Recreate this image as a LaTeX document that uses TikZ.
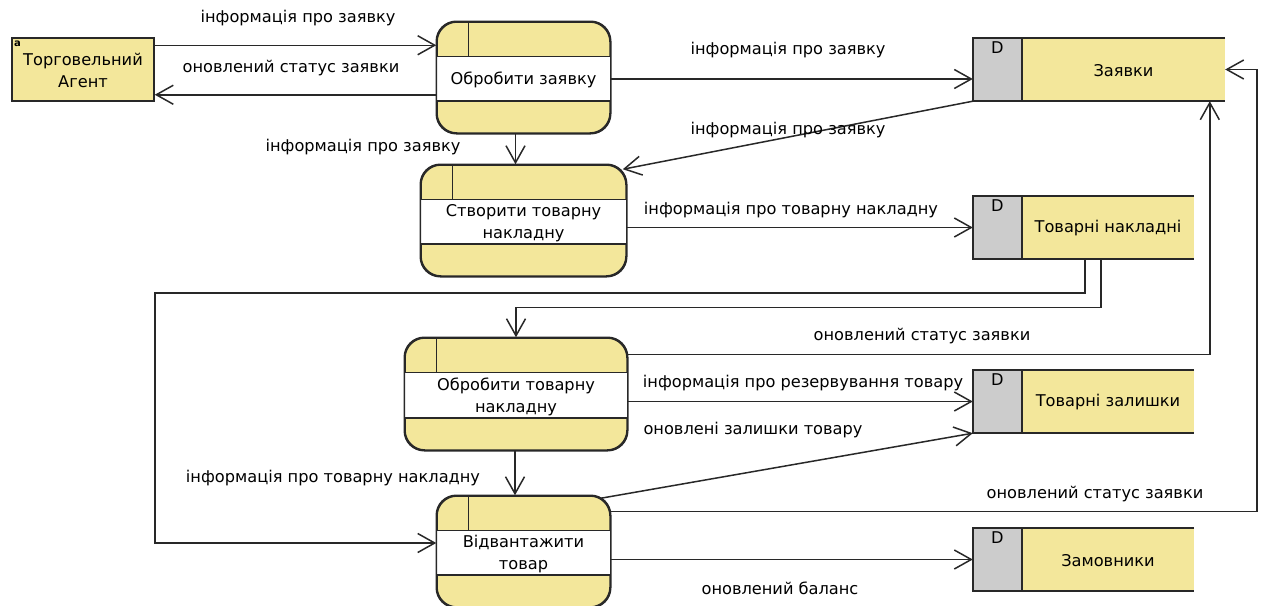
\documentclass[tikz,border=0pt]{standalone}
\usepackage{fontspec}
\setmainfont{DejaVu Sans}
\usetikzlibrary{arrows.meta,calc}

\definecolor{dfdyellow}{RGB}{243,231,155}
\definecolor{dfdgray}{RGB}{204,204,204}
\definecolor{dfdline}{RGB}{40,40,40}

\tikzset{
  line/.style={draw=dfdline, line width=1.5pt},
  flow/.style={line, -{Straight Barb[length=17pt,width=19pt,line width=1.5pt]}},
  lbl/.style={font=\fontsize{16.2}{20}\selectfont, inner sep=0pt},
  boxtext/.style={font=\fontsize{16.2}{22}\selectfont, align=center, inner sep=0pt},
  procbody/.style={line, fill=dfdyellow, rounded corners=20pt, inner sep=0pt},
  storebody/.style={fill=dfdyellow, minimum height=63pt, inner sep=0pt},
  entity/.style={line, fill=dfdyellow, inner sep=0pt},
}

% process: name, centre, width, height, label
\newcommand\dfdprocess[5]{%
  \node[procbody, minimum width=#3pt, minimum height=#4pt] (#1) at #2 {};
  \fill[white] ($(#1.north west)+(0,35)$) rectangle ($(#1.south east)+(0,-33)$);
  \draw[line] ($(#1.north west)+(0,35)$) -- ($(#1.north east)+(0,35)$);
  \draw[line] ($(#1.south west)+(0,-33)$) -- ($(#1.south east)+(0,-33)$);
  \draw[line] ($(#1.north west)+(32,0)$) -- ($(#1.north west)+(32,35)$);
  \draw[line, rounded corners=20pt] (#1.north west) rectangle (#1.south east);
  \node[boxtext] (#1-text) at ($(#1.center)+(0,2.5)$) {#5};
}

% data store: name, centre, width, label
\newcommand\dfdstore[4]{%
  \node[storebody, minimum width=#3pt] (#1) at #2 {};
  \fill[dfdgray] (#1.north west) rectangle ($(#1.south west)+(49,0)$);
  \draw[line] (#1.north east) -- (#1.north west) -- (#1.south west) -- (#1.south east);
  \draw[line] ($(#1.north west)+(49,0)$) -- ($(#1.south west)+(49,0)$);
  \node[boxtext] (#1-d) at ($(#1.north west)+(24.5,10)$) {D};
  \node[boxtext] (#1-text) at ($(#1.center)+(24.5,1)$) {#4};
}

\begin{document}
\begin{tikzpicture}[x=1pt, y=-1pt]
\useasboundingbox (0,0) rectangle (1263,605);
\clip (0,0) rectangle (1263,605);

% external entity
\node[entity, minimum width=142pt, minimum height=63pt] (ag) at (83,69.5) {};
\node[boxtext] (ag-text) at (83,70) {Торговельний\\Агент};
\node[font=\fontsize{10}{10}\selectfont\bfseries, inner sep=0pt] (ag-a) at (17.5,44) {a};

% processes
\dfdprocess{p1}{(523.5,77.5)}{173}{111}{Обробити заявку}
\dfdprocess{p2}{(523.5,220.5)}{205}{111}{Створити товарну\\накладну}
\dfdprocess{p3}{(516,394)}{222}{112}{Обробити товарну\\накладну}
\dfdprocess{p4}{(523.5,551.5)}{173}{111}{Відвантажити\\товар}

% data stores
\dfdstore{s1}{(1099,69.5)}{252}{Заявки}
\dfdstore{s2}{(1083.5,227.5)}{221}{Товарні накладні}
\dfdstore{s3}{(1083.5,401.5)}{221}{Товарні залишки}
\dfdstore{s4}{(1083.5,559.5)}{221}{Замовники}

% flows
\draw[flow] ([yshift=-8pt]ag.north east) -- ([yshift=-8pt]ag.north east -| p1.west);
\draw[flow] ([yshift=7pt]ag.south east -| p1.west) -- ([yshift=7pt]ag.south east);
\draw[flow] ([yshift=-1.5pt]p1.east) -- ([yshift=-1.5pt]p1.east -| s1.west);
\draw[flow] (s1.south west) -- ($(p2.north east)+(-4,5)$);
\draw[flow] ([xshift=-8pt]p1.south) -- ([xshift=-8pt]p1.south |- p2.north);
\draw[flow] (p2.east |- s2.west) -- (s2.west);
\draw[flow] ($(s2.south west)+(128,0)$) |- ($(p3.north)+(0,-30)$) -- (p3.north);
\draw[flow] ($(s2.south west)+(112,0)$) |- (155,293) |- ($(p4.west)+(0,-8.5)$);
\draw[flow] ($(p3.north east)+(0,17)$) -| ($(s1.south west)+(237,0)$);
\draw[flow] (p3.east |- s3.west) -- (s3.west);
\draw[flow] ($(p4.north east)+(-10,3)$) -- (s3.south west);
\draw[flow] ([xshift=-1pt]p3.south) -- ([xshift=-1pt]p3.south |- p4.north);
\draw[flow] ($(p4.north east)+(0,16)$) -| ($(s1.east)+(32,0)$) -- (s1.east);
\draw[flow] (p4.east |- s4.west) -- (s4.west);

% flow labels
\node[lbl] (l1)  at (298,18)   {інформація про заявку};
\node[lbl] (l2)  at (291,68)   {оновлений статус заявки};
\node[lbl] (l3)  at (788,50)   {інформація про заявку};
\node[lbl] (l4)  at (788,130)  {інформація про заявку};
\node[lbl] (l5)  at (363,147)  {інформація про заявку};
\node[lbl] (l6)  at (791,210)  {інформація про товарну накладну};
\node[lbl] (l7)  at (922,336)  {оновлений статус заявки};
\node[lbl] (l8)  at (803,383)  {інформація про резервування товару};
\node[lbl] (l9)  at (753,430)  {оновлені залишки товару};
\node[lbl] (l10) at (333,478)  {інформація про товарну накладну};
\node[lbl] (l11) at (1095,494) {оновлений статус заявки};
\node[lbl] (l12) at (780,588)  {оновлений баланс};
\end{tikzpicture}
\end{document}
